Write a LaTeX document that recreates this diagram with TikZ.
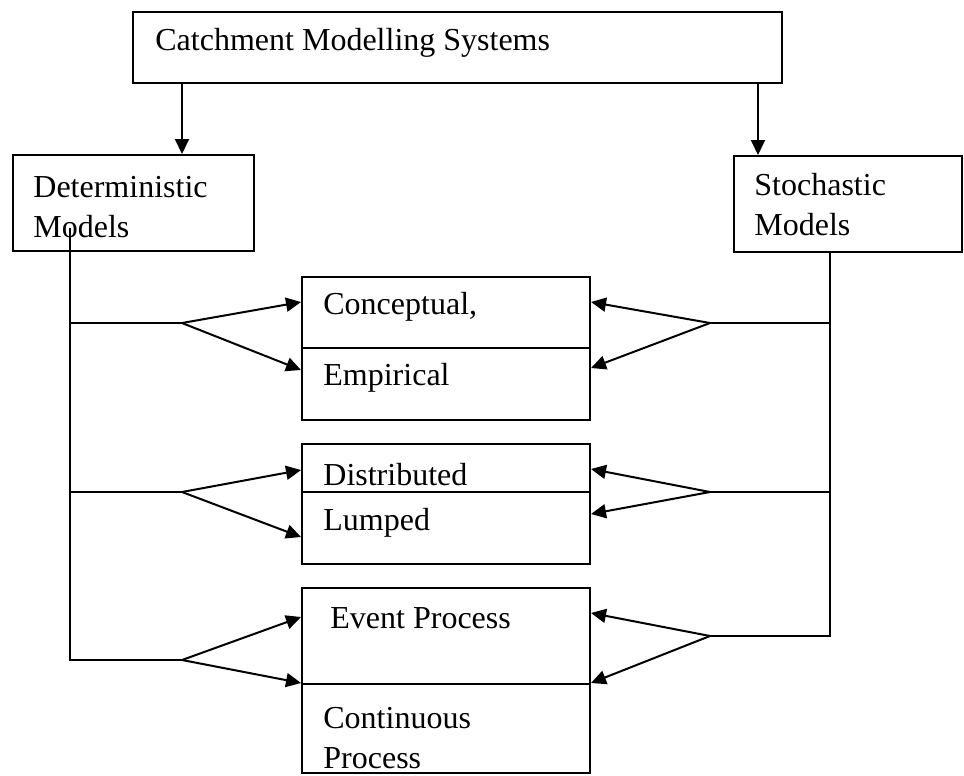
\documentclass[tikz,border=0pt]{standalone}
\usepackage{fontspec}
\setmainfont{Liberation Serif}
\usepackage{tikz}
\usetikzlibrary{arrows.meta, fit, calc}

\begin{document}
\begin{tikzpicture}[x=0.5pt, y=-0.5pt,
    box/.style={draw, line width=1pt, inner sep=0pt},
    txt/.style={anchor=west, inner sep=0pt, align=left, font=\fontsize{16}{20}\selectfont},
    wire/.style={line width=1pt},
    arr/.style={line width=1pt, -{Triangle[length=7.5pt, width=7pt]}}]

    \useasboundingbox (0,0) rectangle (964,776);

    % Top box holding the whole family of systems
    \node[box, fit={(133,12) (782,83)}] (cms) {};
    \node[txt] (cmstxt) at (155,43) {Catchment Modelling Systems};

    % The two main kinds of models
    \node[box, fit={(13,155) (254,251)}] (det) {};
    \node[txt] (dettxt) at (33,207) {Deterministic\\Models};
    \node[box, fit={(734,156) (962,252)}] (sto) {};
    \node[txt] (stotxt) at (754,205) {Stochastic\\Models};

    % Arrows down from the top box
    \coordinate (dx) at (182,0);
    \coordinate (sx) at (758,0);
    \draw[arr] (cms.south -| dx) -- (det.north -| dx);
    \draw[arr] (cms.south -| sx) -- (sto.north -| sx);

    % First pair: conceptual / empirical
    \node[box, fit={(302,277) (590,348)}] (concept) {};
    \node[box, fit={(302,348) (590,420)}] (empir) {};
    \node[txt] (concepttxt) at (323,307) {Conceptual,};
    \node[txt] (empirtxt) at (323,378) {Empirical};

    % Second pair: distributed / lumped
    \node[box, fit={(302,444) (590,492)}] (distr) {};
    \node[box, fit={(302,492) (590,564)}] (lump) {};
    \node[txt] (distrtxt) at (323,475) {Distributed};
    \node[txt] (lumptxt) at (323,523) {Lumped};

    % Third pair: event / continuous process
    \node[box, fit={(302,588) (590,684)}] (event) {};
    \node[box, fit={(302,684) (590,773)}] (contin) {};
    \node[txt] (eventtxt) at (330,618) {Event Process};
    \node[txt] (contintxt) at (323,738) {Continuous\\Process};

    % Branch points on both sides
    \coordinate (dtop) at (70,228);
    \coordinate (dj1) at (182,323);
    \coordinate (dj2) at (182,492);
    \coordinate (dj3) at (182,660);
    \coordinate (stop) at (sto.south -| 830,0);
    \coordinate (sj1) at (710,323);
    \coordinate (sj2) at (710,492);
    \coordinate (sj3) at (710,636);

    % Left trunk from the deterministic box
    \draw[wire] (dtop) |- (dj3);
    \draw[wire] (dtop |- dj1) -- (dj1);
    \draw[wire] (dtop |- dj2) -- (dj2);

    % Right trunk from the stochastic box
    \draw[wire] (stop) |- (sj3);
    \draw[wire] (stop |- sj1) -- (sj1);
    \draw[wire] (stop |- sj2) -- (sj2);

    % Arrows from the left
    \draw[arr] (dj1) -- (concept.west |- 0,302);
    \draw[arr] (dj1) -- (empir.west |- 0,370);
    \draw[arr] (dj2) -- (distr.west |- 0,470);
    \draw[arr] (dj2) -- (lump.west |- 0,537);
    \draw[arr] (dj3) -- (event.west |- 0,617);
    \draw[arr] (dj3) -- (contin.north west);

    % Arrows from the right
    \draw[arr] (sj1) -- (concept.east |- 0,302);
    \draw[arr] (sj1) -- (empir.east |- 0,368);
    \draw[arr] (sj2) -- (distr.east |- 0,469);
    \draw[arr] (sj2) -- (lump.east |- 0,514);
    \draw[arr] (sj3) -- (event.east |- 0,613);
    \draw[arr] (sj3) -- (contin.north east);

\end{tikzpicture}
\end{document}
